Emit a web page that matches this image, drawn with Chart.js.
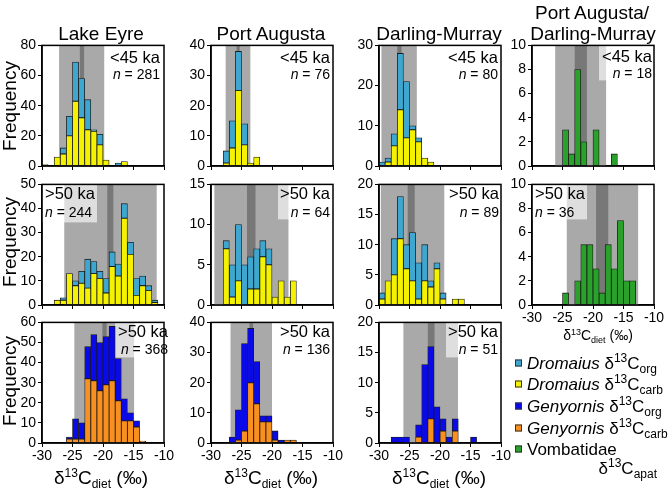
<!DOCTYPE html>
<html><head><meta charset="utf-8">
<script src="https://cdn.jsdelivr.net/npm/chart.js@4.4.1/dist/chart.umd.min.js"></script>
<style>
html,body{margin:0;padding:0;background:#fff;}
body{width:672px;height:494px;overflow:hidden;position:relative;font-family:"Liberation Sans",Arial,sans-serif;color:#000;}
canvas{position:absolute;}
.t{position:absolute;white-space:nowrap;line-height:1;transform:translate(-50%,-50%);}
.rot{transform:translate(-50%,-50%) rotate(-90deg);}
.big{font-size:19px;}
.big sup,.big sub{font-size:12px;}
sup{vertical-align:0;position:relative;top:-0.55em;}
sub{vertical-align:0;position:relative;top:0.35em;}
.lg{position:absolute;white-space:nowrap;line-height:1;font-size:17px;transform:translateY(-50%);}
.lg sup,.lg sub{font-size:12px;}
.sq{position:absolute;width:5px;height:5px;border:1px solid #333;transform:translateY(-50%);}
.sm{font-size:14px;}
.sm sup,.sm sub{font-size:9px;}
</style></head><body>
<script>
// ---------- DATA ----------
const binStarts = [-30,-29,-28,-27,-26,-25,-24,-23,-22,-21,-20,-19,-18,-17,-16,-15,-14,-13,-12,-11];
const xTickValues = [-30,-25,-20,-15,-10];
const siteTitles = ['Lake Eyre','Port Augusta','Darling-Murray','Port Augusta/\nDarling-Murray'];
const ageLabels = ['<45 ka','>50 ka'];
const sampleSizes = [281,76,80,18,244,64,89,36,368,136,51];

// <45 ka Dromaius (carbonate = yellow, organic = blue part stacked above)
const leYoungCarb = [1,0,6,8,20,43,32,24,23,14,4,0,0,3,0,0,0,0,0,0];
const leYoungOrg  = [0,0,0,4,13,26,26,20,1,7,0,0,2,0,0,0,0,0,0,0];
const paYoungCarb = [0,0,1,6,25,7,1,3,0,0,0,0,0,0,0,0,0,0,0,0];
const paYoungOrg  = [0,0,4,9,13,7,0,0,0,0,0,0,0,0,0,0,0,0,0,0];
const dmYoungCarb = [0,1,5,14,7,9,6,2,1,0,0,0,0,0,0,0,0,0,0,0];
const dmYoungOrg  = [1,1,3,14,14,1,1,0,0,0,0,0,0,0,0,0,0,0,0,0];
const vombYoung   = [0,0,0,0,0,3,1,8,2,0,3,0,0,1,0,0,0,0,0,0];
// >50 ka Dromaius
const leOldCarb = [0,0,2,2,13,8,9,7,13,11,5,16,12,36,21,4,8,6,1,0];
const leOldOrg  = [0,0,0,1,0,2,5,12,5,3,6,6,5,6,5,7,4,2,1,0];
const paOldCarb = [0,0,7,1,3,0,2,2,6,5,1,3,1,3,0,0,0,0,0,0];
const paOldOrg  = [0,0,1,4,7,5,4,5,2,2,0,0,0,0,0,0,0,0,0,0];
const dmOldCarb = [1,4,5,11,6,4,1,4,3,6,1,0,1,1,0,0,0,0,0,0];
const dmOldOrg  = [1,0,6,7,4,8,6,6,1,1,1,0,0,0,0,0,0,0,0,0];
const vombOld   = [0,0,0,0,0,1,0,2,5,5,3,1,5,3,7,2,2,0,0,0];
// >50 ka Genyornis
const leGenCarb = [0,0,0,0,2,2,2,32,31,26,29,31,21,11,11,8,1,0,0,0];
const leGenOrg  = [0,0,0,0,1,10,8,16,23,24,24,27,21,11,4,3,0,0,0,0];
const paGenCarb = [0,0,0,0,1,4,20,13,7,7,1,0,1,1,0,0,0,0,0,0];
const paGenOrg  = [0,0,0,2,10,29,18,14,2,2,3,1,0,0,0,0,0,0,0,0];
const dmGenCarb = [0,0,0,0,0,0,1,0,4,0,2,0,2,0,0,0,0,0,0,0];
const dmGenOrg  = [0,0,1,1,1,0,2,13,12,6,2,1,2,0,0,1,0,0,0,0];

// shaded ranges (per mil): light = range, dark = mean
const lightBands = [[-27.2,-19.8],[-27.6,-23.55],[-29.6,-23.8],[-26.2,-17.85],
                    [-26.35,-11.2],[-29.45,-17.3],[-29.7,-19.3],[-24.3,-12.6],
                    [-24.7,-14.9],[-26.8,-20.0],[-26.0,-17.05]];
const darkBands  = [[-23.8,-23.1],[-25.8,-25.3],[-27.0,-26.3],[-23.0,-21.0],
                    [-19.3,-18.3],[-24.1,-22.7],[-25.3,-24.15],[-19.5,-17.5],
                    [-20.1,-19.4],[-23.7,-23.1],[-22.0,-20.9]];

// ---------- STYLE / LAYOUT ----------
const FONT = '"Liberation Sans", Arial, sans-serif';
const COLORS = {dromOrg:'#3ea6cf', dromCarb:'#f4f200', genOrg:'#0a0ae8', genCarb:'#f7901e', vomb:'#2aa12a'};
const colLeft = [42,211,379,532], rowTop = [45,184,322];
const PW = 122, PH = 121, YW = 40, PADT = 10, PADR = 18, XH = 26;

const panels = [
 {col:0,row:0,s:[['dromCarb',leYoungCarb],['dromOrg',leYoungOrg]],yMax:80,yStep:20,age:0,align:'right',dx:-4,dy:[13,30],box:null,xl:false},
 {col:1,row:0,s:[['dromCarb',paYoungCarb],['dromOrg',paYoungOrg]],yMax:40,yStep:10,age:0,align:'right',dx:-3,dy:[13,30],box:null,xl:false},
 {col:2,row:0,s:[['dromCarb',dmYoungCarb],['dromOrg',dmYoungOrg]],yMax:30,yStep:10,age:0,align:'right',dx:-3,dy:[13,30],box:null,xl:false},
 {col:3,row:0,s:[['vomb',vombYoung]],yMax:10,yStep:2,age:0,align:'right',dx:-2,dy:[12,29],box:[67,122,35],xl:false},
 {col:0,row:1,s:[['dromCarb',leOldCarb],['dromOrg',leOldOrg]],yMax:50,yStep:10,age:1,align:'left',dx:3,dy:[10,29],box:[0,55,38],xl:false},
 {col:1,row:1,s:[['dromCarb',paOldCarb],['dromOrg',paOldOrg]],yMax:15,yStep:5,age:1,align:'right',dx:-3,dy:[10,29],box:[67,122,35],xl:false},
 {col:2,row:1,s:[['dromCarb',dmOldCarb],['dromOrg',dmOldOrg]],yMax:20,yStep:5,age:1,align:'right',dx:-2,dy:[10,29],box:null,xl:false},
 {col:3,row:1,s:[['vomb',vombOld]],yMax:10,yStep:2,age:1,align:'left',dx:3,dy:[10,29],box:[0,55,35],xl:true},
 {col:0,row:2,s:[['genCarb',leGenCarb],['genOrg',leGenOrg]],yMax:60,yStep:10,age:1,align:'right',dx:4,dy:[10,28],box:[73,127,35],xl:true},
 {col:1,row:2,s:[['genCarb',paGenCarb],['genOrg',paGenOrg]],yMax:40,yStep:10,age:1,align:'right',dx:-3,dy:[10,28],box:null,xl:true},
 {col:2,row:2,s:[['genCarb',dmGenCarb],['genOrg',dmGenOrg]],yMax:20,yStep:5,age:1,align:'right',dx:-3,dy:[10,28],box:[67,122,35],xl:true}
];

function decor(p, idx){
  return {
    id:'decor'+idx,
    beforeDatasetsDraw(chart){
      const {ctx, chartArea:a, scales:{x}} = chart;
      ctx.save();
      const band = (r,c)=>{const x0=x.getPixelForValue(r[0]), x1=x.getPixelForValue(r[1]);
        ctx.fillStyle=c; ctx.fillRect(x0,a.top,x1-x0,a.bottom-a.top);};
      band(lightBands[idx],'#a9a9a9');
      band(darkBands[idx],'#787878');
      if(p.box){ctx.fillStyle='rgba(255,255,255,0.62)';ctx.fillRect(a.left+p.box[0],a.top,p.box[1]-p.box[0],p.box[2]);}
      ctx.restore();
    },
    afterDraw(chart){
      const {ctx, chartArea:a} = chart;
      ctx.save();
      ctx.strokeStyle='#000'; ctx.lineWidth=1.5;
      ctx.strokeRect(a.left,a.top,a.right-a.left,a.bottom-a.top);
      ctx.fillStyle='#000'; ctx.textBaseline='middle';
      const x0 = p.align==='right' ? a.right+p.dx : a.left+p.dx;
      ctx.font='16.5px '+FONT; ctx.textAlign=p.align;
      ctx.fillText(ageLabels[p.age], x0, a.top+p.dy[0]);
      const rest=' = '+sampleSizes[idx];
      const y2=a.top+p.dy[1];
      if(p.align==='right'){
        ctx.font='14px '+FONT; ctx.textAlign='right'; ctx.fillText(rest,x0,y2);
        const w=ctx.measureText(rest).width;
        ctx.font='italic 14px '+FONT; ctx.fillText('n',x0-w,y2);
      } else {
        ctx.font='italic 14px '+FONT; ctx.textAlign='left'; ctx.fillText('n',x0,y2);
        const w=ctx.measureText('n').width;
        ctx.font='14px '+FONT; ctx.fillText(rest,x0+w,y2);
      }
      ctx.restore();
    }
  };
}

const gridOpts = {drawOnChartArea:false, drawTicks:true, tickLength:4, color:'#000', lineWidth:1, offset:false};
const borderOpts = {display:true, color:'#000', width:1.5};

panels.forEach((p,idx)=>{
  const c=document.createElement('canvas');
  c.width=YW+PW+PADR; c.height=PADT+PH+XH;
  c.style.left=(colLeft[p.col]-YW)+'px'; c.style.top=(rowTop[p.row]-PADT)+'px';
  c.style.width=c.width+'px'; c.style.height=c.height+'px';
  document.body.appendChild(c);
  const datasets=p.s.map(([key,arr])=>({
    label:key,
    data:binStarts.map((b,i)=>({x:b+0.5, y: arr[i] ? arr[i] : null})),
    backgroundColor:COLORS[key], borderColor:'#1a1a1a', borderWidth:0.8, borderSkipped:false,
    barPercentage:1, categoryPercentage:1
  }));
  new Chart(c,{
    type:'bar',
    data:{datasets},
    options:{
      responsive:false, animation:false, devicePixelRatio:1,
      layout:{padding:{top:PADT,right:PADR,left:0,bottom:0}},
      plugins:{legend:{display:false},tooltip:{enabled:false}},
      scales:{
        x:{type:'linear',min:-30,max:-10,offset:false,stacked:true,
           afterFit(s){s.height=XH;},
           afterBuildTicks(s){s.ticks=xTickValues.map(v=>({value:v}));},
           ticks:{display:p.xl,font:{size:14,family:FONT},color:'#000',padding:1,maxRotation:0,autoSkip:false},
           grid:gridOpts, border:borderOpts},
        y:{min:0,max:p.yMax,stacked:true,
           afterFit(s){s.width=YW;},
           ticks:{stepSize:p.yStep,font:{size:14,family:FONT},color:'#000',padding:2},
           grid:gridOpts, border:borderOpts}
      }
    },
    plugins:[decor(p,idx)]
  });
});

// ---------- HTML TEXT ----------
function addText(html, cls, x, y){
  const d=document.createElement('div'); d.className=cls; d.innerHTML=html;
  d.style.left=x+'px'; d.style.top=y+'px'; document.body.appendChild(d); return d;
}
addText(siteTitles[0],'t big',101,33);
addText(siteTitles[1],'t big',271,33);
addText(siteTitles[2],'t big',439,33);
const pdm = siteTitles[3].split('\n');
addText(pdm[0],'t big',592,12);
addText(pdm[1],'t big',593,33);
[106,242,381].forEach(y=>addText('Frequency','t big rot',9,y));
const axisTitle='δ<sup>13</sup>C<sub>diet</sub> (‰)';
addText(axisTitle,'t big',101,477);
addText(axisTitle,'t big',271,477);
addText(axisTitle,'t big',439,477);
addText(axisTitle,'t sm',598,335);

const legendItems=[
 ['dromOrg','<i>Dromaius</i> δ<sup>13</sup>C<sub>org</sub>'],
 ['dromCarb','<i>Dromaius</i> δ<sup>13</sup>C<sub>carb</sub>'],
 ['genOrg','<i>Genyornis</i> δ<sup>13</sup>C<sub>org</sub>'],
 ['genCarb','<i>Genyornis</i> δ<sup>13</sup>C<sub>carb</sub>'],
 ['vomb','Vombatidae']
];
const legY=[363,384,406,428,449];
legendItems.forEach(([k,h],i)=>{
  const s=document.createElement('div'); s.className='sq'; s.style.background=COLORS[k];
  s.style.left='515px'; s.style.top=legY[i]+'px'; document.body.appendChild(s);
  const d=document.createElement('div'); d.className='lg'; d.innerHTML=h;
  d.style.left='527px'; d.style.top=legY[i]+'px'; document.body.appendChild(d);
});
const last=document.createElement('div'); last.className='lg'; last.innerHTML='δ<sup>13</sup>C<sub>apat</sub>';
last.style.right=(672-657)+'px'; last.style.top='468px'; document.body.appendChild(last);
</script>
</body></html>
